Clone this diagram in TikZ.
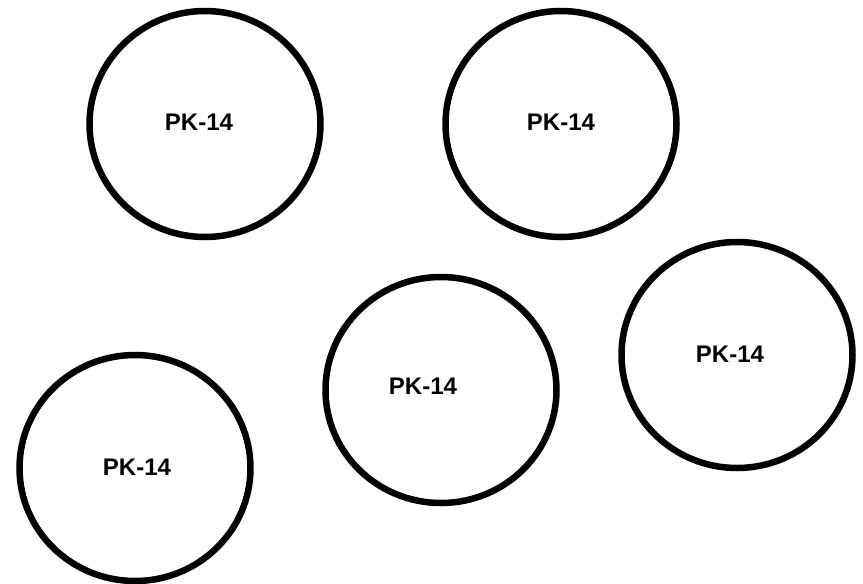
\documentclass[tikz,border=0pt]{standalone}
\usepackage{fontspec}
\setmainfont{Liberation Sans}
\usetikzlibrary{shapes.geometric}

\begin{document}
\begin{tikzpicture}[x=1pt, y=-1pt,
    ring/.style={draw, ellipse, line width=6.5pt, inner sep=0pt,
      minimum width=231pt, minimum height=226pt},
    tag/.style={font=\fontsize{24}{28}\selectfont\bfseries, inner sep=0pt}]
      \useasboundingbox (0, 0) rectangle (863, 584);
      \node[ring] (ringA) at (205, 124) {};
      \node[ring] (ringB) at (561, 124) {};
      \node[ring] (ringC) at (737, 355) {};
      \node[ring] (ringD) at (441, 390) {};
      \node[ring] (ringE) at (135, 468) {};
      \node[tag] (tagA) at (199, 122) {PK-14};
      \node[tag] (tagB) at (561, 122) {PK-14};
      \node[tag] (tagC) at (730, 354) {PK-14};
      \node[tag] (tagD) at (423, 386) {PK-14};
      \node[tag] (tagE) at (137, 467) {PK-14};
    \end{tikzpicture}
\end{document}
